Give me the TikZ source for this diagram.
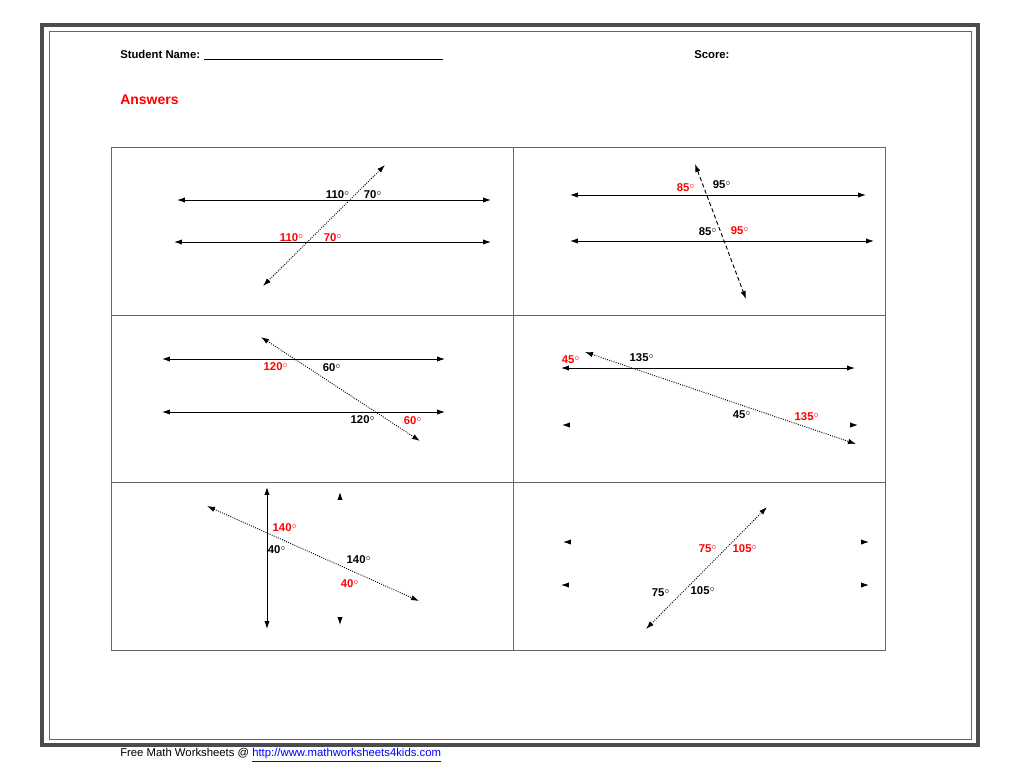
\documentclass[tikz,border=0pt]{standalone}
\usepackage{fontspec}
\setmainfont{Liberation Sans}
\usetikzlibrary{arrows.meta}
\tikzset{
  ln/.style={line width=0.7pt, {Latex[length=6pt,width=4pt]}-{Latex[length=6pt,width=4pt]}},
  tip/.style={line width=0.7pt, -{Latex[length=6pt,width=4pt]}},
  ang/.style={font=\fontsize{8.5}{10}\selectfont\bfseries, inner sep=0pt},
  red ang/.style={ang, text=red},
}
\begin{document}
\begin{tikzpicture}[x=0.0264cm, y=-0.0264cm]
    \useasboundingbox (0,0) rectangle (1024,768);
    \draw[line width=2.5pt, black!70] (42,25) rectangle (978,745);
    \draw[line width=0.6pt, black!60] (49,31) rectangle (971,739);

    \node[ang, anchor=west] (name) at (120,55) {Student Name: \rule[-1pt]{6.3cm}{0.5pt}};
    \node[ang, anchor=west] (score) at (694,55) {Score:};
    \node[ang, anchor=west, text=red, font=\fontsize{10.5}{12}\selectfont\bfseries] (ans) at (120,100) {Answers};
    \node[anchor=west, inner sep=0pt, font=\fontsize{8.5}{10}\selectfont] (foot) at (120,755)
      {Free Math Worksheets @ \textcolor{blue}{\underline{http://www.mathworksheets4kids.com}}};

    % grid
    \draw[black!60, line width=0.6pt] (111,147) rectangle (885,650);
    \draw[black!60, line width=0.6pt] (513,147) -- (513,650);
    \draw[black!60, line width=0.6pt] (111,315) -- (885,315);
    \draw[black!60, line width=0.6pt] (111,482) -- (885,482);

    % panel 1
    \coordinate (a1) at (177,200); \coordinate (b1) at (491,200);
    \coordinate (a2) at (174,242); \coordinate (b2) at (491,242);
    \coordinate (t1) at (263,286); \coordinate (u1) at (385,165);
    \draw[ln] (a1) -- (b1);
    \draw[ln] (a2) -- (b2);
    \draw[ln, densely dotted] (t1) -- (u1);
    \node[ang] (p1a) at (338,195) {110$^\circ$};
    \node[ang] (p1b) at (373,195) {70$^\circ$};
    \node[red ang] (p1c) at (292,238) {110$^\circ$};
    \node[red ang] (p1d) at (333,238) {70$^\circ$};

    % panel 2
    \coordinate (c1) at (570,195); \coordinate (d1) at (866,195);
    \coordinate (c2) at (570,241); \coordinate (d2) at (874,241);
    \coordinate (t2) at (695,164); \coordinate (u2) at (746,299);
    \draw[ln] (c1) -- (d1);
    \draw[ln] (c2) -- (d2);
    \draw[ln, densely dashed] (t2) -- (u2);
    \node[red ang] (p2a) at (686,188) {85$^\circ$};
    \node[ang] (p2b) at (722,185) {95$^\circ$};
    \node[ang] (p2c) at (708,232) {85$^\circ$};
    \node[red ang] (p2d) at (740,231) {95$^\circ$};

    % panel 3
    \coordinate (e1) at (162,359); \coordinate (f1) at (445,359);
    \coordinate (e2) at (162,412); \coordinate (f2) at (445,412);
    \coordinate (t3) at (261,337); \coordinate (u3) at (420,441);
    \draw[ln] (e1) -- (f1);
    \draw[ln] (e2) -- (f2);
    \draw[ln, densely dotted] (t3) -- (u3);
    \node[red ang] (p3a) at (276,367) {120$^\circ$};
    \node[ang] (p3b) at (332,368) {60$^\circ$};
    \node[ang] (p3c) at (363,420) {120$^\circ$};
    \node[red ang] (p3d) at (413,421) {60$^\circ$};

    % panel 4
    \coordinate (g1) at (561,368); \coordinate (h1) at (855,368);
    \coordinate (t4) at (585,352); \coordinate (u4) at (856,444);
    \draw[ln] (g1) -- (h1);
    \draw[ln, densely dotted] (t4) -- (u4);
    \draw[tip] (569,425) -- (562,425);
    \draw[tip] (851,425) -- (858,425);
    \node[red ang] (p4a) at (571,360) {45$^\circ$};
    \node[ang] (p4b) at (642,358) {135$^\circ$};
    \node[ang] (p4c) at (742,415) {45$^\circ$};
    \node[red ang] (p4d) at (807,417) {135$^\circ$};

    % panel 5
    \coordinate (k1) at (267,487); \coordinate (l1) at (267,629);
    \coordinate (t5) at (207,506); \coordinate (u5) at (419,601);
    \draw[ln] (k1) -- (l1);
    \draw[ln, densely dotted] (t5) -- (u5);
    \draw[tip] (340,499) -- (340,492);
    \draw[tip] (340,618) -- (340,625);
    \node[red ang] (p5a) at (285,528) {140$^\circ$};
    \node[ang] (p5b) at (277,550) {40$^\circ$};
    \node[ang] (p5c) at (359,560) {140$^\circ$};
    \node[red ang] (p5d) at (350,584) {40$^\circ$};

    % panel 6
    \coordinate (t6) at (646,629); \coordinate (u6) at (767,507);
    \draw[ln, densely dotted] (t6) -- (u6);
    \draw[tip] (570,542) -- (563,542);
    \draw[tip] (862,542) -- (869,542);
    \draw[tip] (568,585) -- (561,585);
    \draw[tip] (862,585) -- (869,585);
    \node[red ang] (p6a) at (708,549) {75$^\circ$};
    \node[red ang] (p6b) at (745,549) {105$^\circ$};
    \node[ang] (p6c) at (661,593) {75$^\circ$};
    \node[ang] (p6d) at (703,591) {105$^\circ$};
\end{tikzpicture}
\end{document}
